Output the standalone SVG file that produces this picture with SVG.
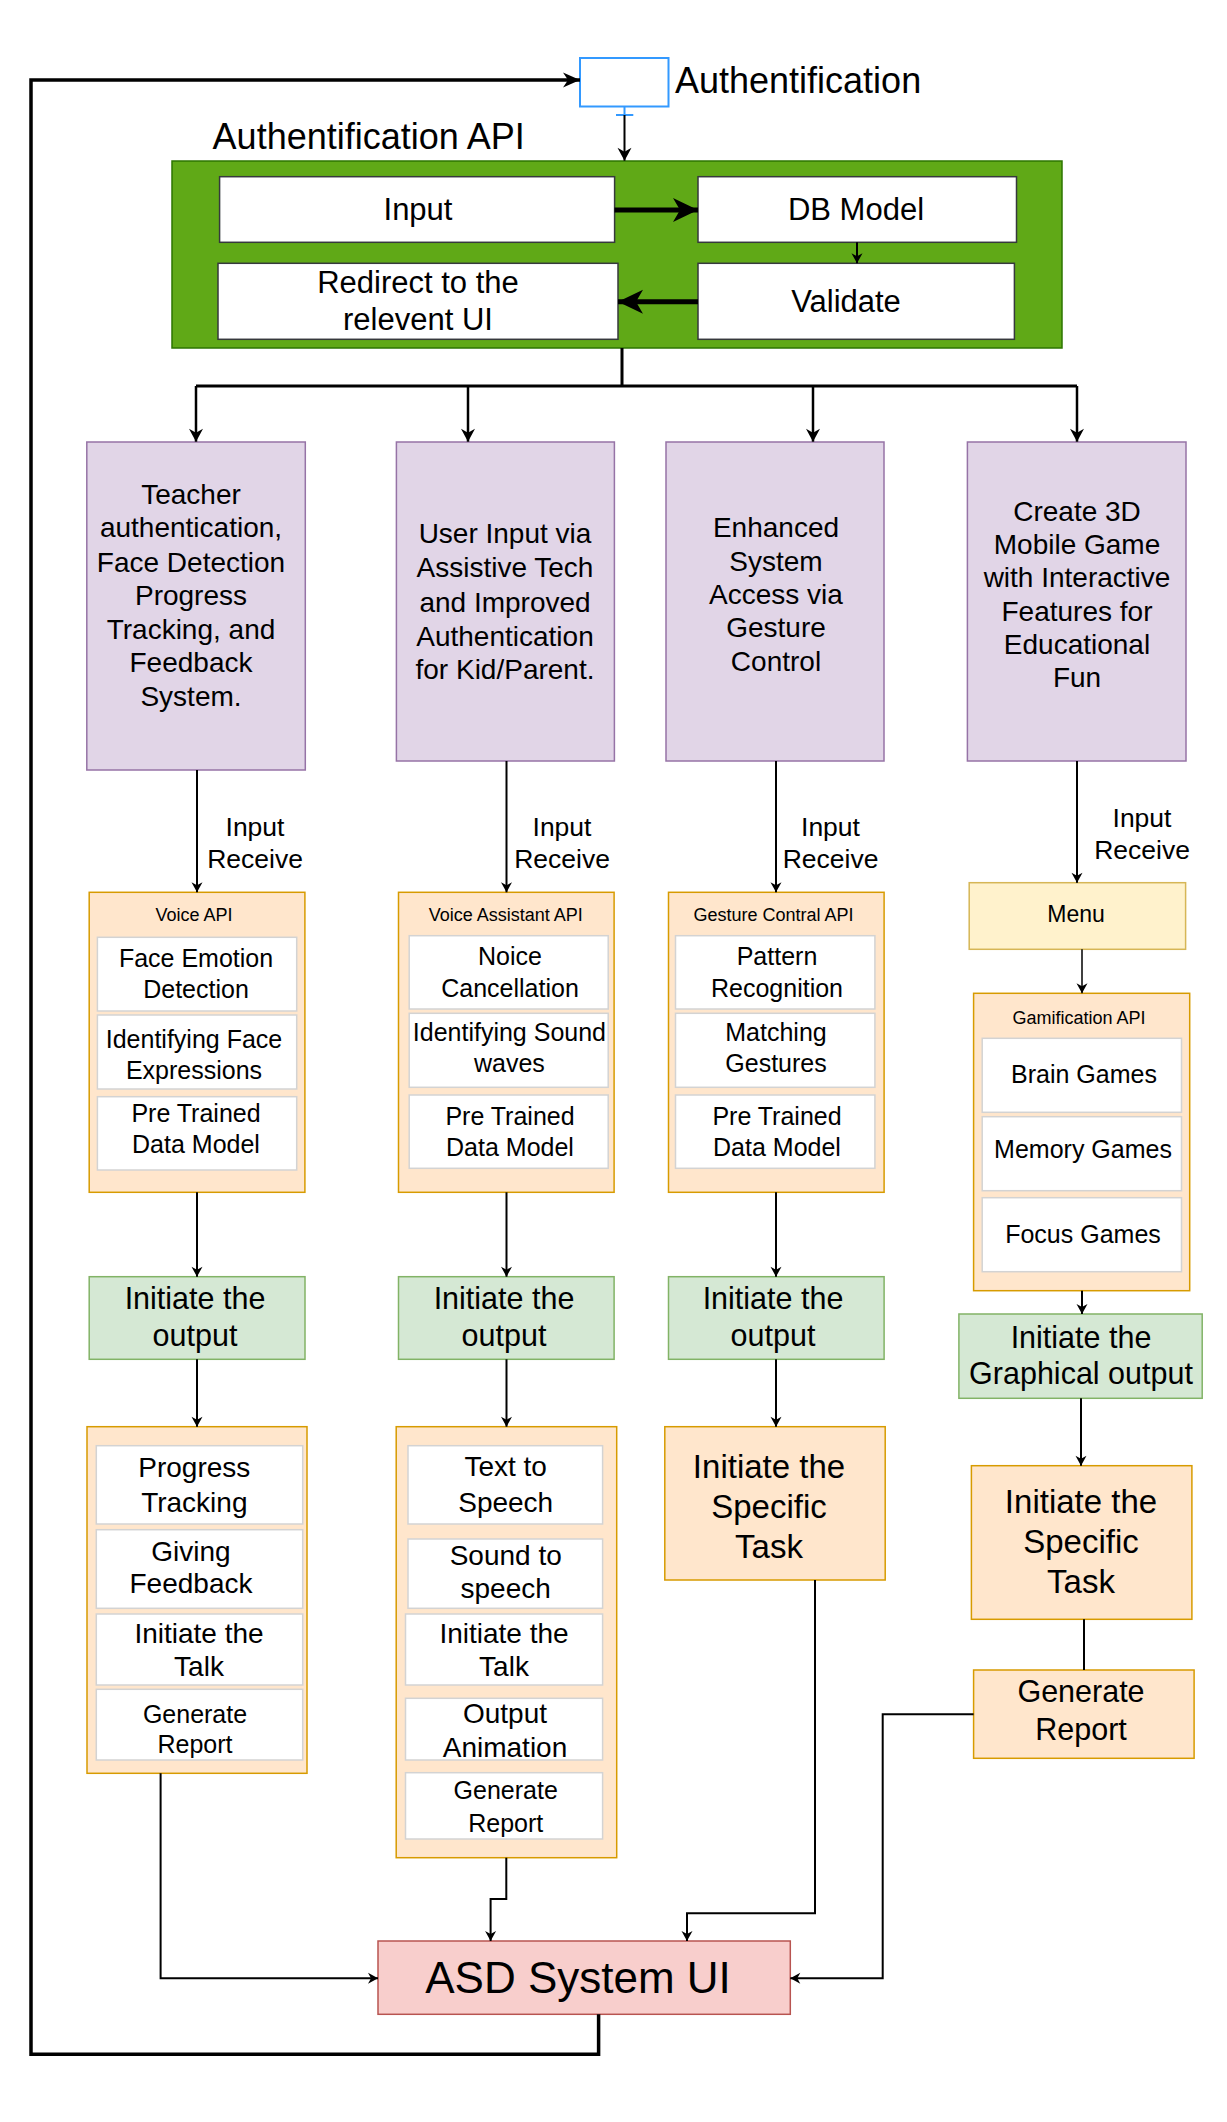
<svg xmlns="http://www.w3.org/2000/svg" width="1227" height="2122" viewBox="0 0 1227 2122">
<style>
text { font-family: "Liberation Sans", Arial, sans-serif; fill: #000; text-anchor: middle; }
.l { text-anchor: start; }
.ln { fill: none; stroke: #000; stroke-width: 2; }
.purple { fill: #e1d5e7; stroke: #9673a6; stroke-width: 1.5; }
.orange { fill: #ffe6cc; stroke: #d79b00; stroke-width: 1.5; }
.green { fill: #d5e8d4; stroke: #82b366; stroke-width: 1.5; }
.sub { fill: #fff; stroke: #d3d3d3; stroke-width: 1.5; }
.yellow { fill: #fff2cc; stroke: #d6b656; stroke-width: 1.5; }
.red { fill: #f8cecc; stroke: #b85450; stroke-width: 1.5; }
.wbox { fill: #fff; stroke: #36393d; stroke-width: 1.5; }
.f36 { font-size: 36px; }
.f31 { font-size: 31px; }
.f30 { font-size: 30.5px; }
.f28 { font-size: 28px; }
.f26 { font-size: 26.5px; }
.f25 { font-size: 25px; }
.f23 { font-size: 23px; }
.f18 { font-size: 18px; }
.f33 { font-size: 33px; }
.f44 { font-size: 44px; }
</style>
<defs>
<marker id="a" markerUnits="userSpaceOnUse" markerWidth="11" markerHeight="11" refX="10" refY="5.5" orient="auto" overflow="visible"><path d="M0,0 L10,5.5 L0,11 L3,5.5 z" fill="#000"/></marker>
<marker id="am" markerUnits="userSpaceOnUse" markerWidth="14" markerHeight="14" refX="13" refY="7" orient="auto" overflow="visible"><path d="M0,0 L13,7 L0,14 L4,7 z" fill="#000"/></marker>
<marker id="ab" markerUnits="userSpaceOnUse" markerWidth="17" markerHeight="15" refX="17" refY="7.5" orient="auto" overflow="visible"><path d="M0,0 L17,7.5 L0,15 L5,7.5 z" fill="#000"/></marker>
<marker id="at" markerUnits="userSpaceOnUse" markerWidth="25" markerHeight="24" refX="25" refY="12" orient="auto" overflow="visible"><path d="M0,0 L25,12 L0,24 L7,12 z" fill="#000"/></marker>
</defs>
<rect x="0" y="0" width="1227" height="2122" fill="#fff"/>

<g id="labels">
  <text class="f26" x="255" y="835.7">Input</text>
  <text class="f26" x="255" y="868.3">Receive</text>
  <text class="f26" x="562" y="835.7">Input</text>
  <text class="f26" x="562" y="868.3">Receive</text>
  <text class="f26" x="830.5" y="835.7">Input</text>
  <text class="f26" x="830.5" y="868.3">Receive</text>
  <text class="f26" x="1142" y="826.7">Input</text>
  <text class="f26" x="1142" y="859.3">Receive</text>
</g>

<g id="authentification">
  <rect x="580" y="58" width="88.5" height="48.5" fill="#fff" stroke="#3399ff" stroke-width="2"/>
  <text class="f36 l" x="675" y="93">Authentification</text>
</g>

<g id="auth-api">
  <text class="f36 l" x="212.6" y="149">Authentification API</text>
  <rect x="172" y="161" width="890" height="187" fill="#60a917" stroke="#2d7600" stroke-width="1.5"/>
  <g id="input"><rect class="wbox" x="219.6" y="176.7" width="395" height="65.6"/><text class="f31" x="418" y="220">Input</text></g>
  <g id="db-model"><rect class="wbox" x="698" y="176.7" width="318.5" height="65.6"/><text class="f31" x="856" y="220">DB Model</text></g>
  <g id="redirect"><rect class="wbox" x="218" y="263.3" width="400" height="76"/><text class="f31" x="418" y="293">Redirect to the</text><text class="f31" x="418" y="330">relevent UI</text></g>
  <g id="validate"><rect class="wbox" x="698" y="263.3" width="316.4" height="76"/><text class="f31" x="846" y="311.7">Validate</text></g>
</g>

<g id="teacher">
  <rect class="purple" x="86.8" y="442" width="218.5" height="328"/>
  <text class="f28" x="191" y="504">Teacher</text>
  <text class="f28" x="191" y="537.3">authentication,</text>
  <text class="f28" x="191" y="571.7">Face Detection</text>
  <text class="f28" x="191" y="605">Progress</text>
  <text class="f28" x="191" y="639">Tracking, and</text>
  <text class="f28" x="191" y="672.3">Feedback</text>
  <text class="f28" x="191" y="705.7">System.</text>
</g>
<g id="user-input">
  <rect class="purple" x="396.4" y="442" width="218" height="319"/>
  <text class="f28" x="505" y="543.3">User Input via</text>
  <text class="f28" x="505" y="577.3">Assistive Tech</text>
  <text class="f28" x="505" y="611.7">and Improved</text>
  <text class="f28" x="505" y="646">Authentication</text>
  <text class="f28" x="505" y="679.3">for Kid/Parent.</text>
</g>
<g id="enhanced">
  <rect class="purple" x="666" y="442" width="218" height="319"/>
  <text class="f28" x="776" y="537.3">Enhanced</text>
  <text class="f28" x="776" y="570.7">System</text>
  <text class="f28" x="776" y="604">Access via</text>
  <text class="f28" x="776" y="637.3">Gesture</text>
  <text class="f28" x="776" y="670.7">Control</text>
</g>
<g id="create-3d">
  <rect class="purple" x="967.4" y="442" width="218.6" height="319"/>
  <text class="f28" x="1077" y="520.7">Create 3D</text>
  <text class="f28" x="1077" y="554">Mobile Game</text>
  <text class="f28" x="1077" y="587.3">with Interactive</text>
  <text class="f28" x="1077" y="620.7">Features for</text>
  <text class="f28" x="1077" y="654">Educational</text>
  <text class="f28" x="1077" y="687.3">Fun</text>
</g>

<g id="voice-api">
  <rect class="orange" x="89.2" y="892.3" width="215.7" height="300"/>
  <text class="f18" x="194" y="920.7">Voice API</text>
  <rect class="sub" x="97.4" y="937.3" width="199.3" height="73.7"/>
  <text class="f25" x="196" y="967.3">Face Emotion</text>
  <text class="f25" x="196" y="998.3">Detection</text>
  <rect class="sub" x="97.4" y="1015" width="199.3" height="74"/>
  <text class="f25" x="194" y="1048.3">Identifying Face</text>
  <text class="f25" x="194" y="1079">Expressions</text>
  <rect class="sub" x="97.4" y="1096.7" width="199.3" height="73.3"/>
  <text class="f25" x="196" y="1122.3">Pre Trained</text>
  <text class="f25" x="196" y="1153.3">Data Model</text>
</g>
<g id="voice-assistant-api">
  <rect class="orange" x="398.5" y="892.3" width="215.6" height="300"/>
  <text class="f18" x="505.7" y="920.7">Voice Assistant API</text>
  <rect class="sub" x="409.2" y="935.7" width="199" height="73.3"/>
  <text class="f25" x="510" y="965">Noice</text>
  <text class="f25" x="510" y="996.7">Cancellation</text>
  <rect class="sub" x="409.2" y="1013.3" width="199" height="74"/>
  <text class="f25" x="509.4" y="1040.7">Identifying Sound</text>
  <text class="f25" x="509.4" y="1071.7">waves</text>
  <rect class="sub" x="409.2" y="1095" width="199" height="73.3"/>
  <text class="f25" x="510" y="1125">Pre Trained</text>
  <text class="f25" x="510" y="1155.7">Data Model</text>
</g>
<g id="gesture-api">
  <rect class="orange" x="668.5" y="892.3" width="215.6" height="300"/>
  <text class="f18" x="773.5" y="920.7">Gesture Contral API</text>
  <rect class="sub" x="675.5" y="935.7" width="199.4" height="73.3"/>
  <text class="f25" x="777" y="965">Pattern</text>
  <text class="f25" x="777" y="996.7">Recognition</text>
  <rect class="sub" x="675.5" y="1013.3" width="199.4" height="74"/>
  <text class="f25" x="776" y="1040.7">Matching</text>
  <text class="f25" x="776" y="1071.7">Gestures</text>
  <rect class="sub" x="675.5" y="1095" width="199.4" height="73.3"/>
  <text class="f25" x="777" y="1125">Pre Trained</text>
  <text class="f25" x="777" y="1155.7">Data Model</text>
</g>
<g id="menu">
  <rect class="yellow" x="969.2" y="882.7" width="216.4" height="66.6"/>
  <text class="f23" x="1076" y="922.3">Menu</text>
</g>
<g id="gamification-api">
  <rect class="orange" x="973.6" y="993.3" width="216.1" height="297.4"/>
  <text class="f18" x="1079" y="1024">Gamification API</text>
  <rect class="sub" x="982.2" y="1038.3" width="199.3" height="74"/>
  <text class="f25" x="1084" y="1083.3">Brain Games</text>
  <rect class="sub" x="982.2" y="1116.7" width="199.3" height="74"/>
  <text class="f25" x="1083" y="1158.3">Memory Games</text>
  <rect class="sub" x="982.2" y="1197.7" width="199.3" height="74"/>
  <text class="f25" x="1083" y="1242.7">Focus Games</text>
</g>

<g id="output-1">
  <rect class="green" x="89.2" y="1276.7" width="215.8" height="82.6"/>
  <text class="f30" x="195" y="1309.3">Initiate the</text>
  <text class="f30" x="195" y="1346">output</text>
</g>
<g id="output-2">
  <rect class="green" x="398.5" y="1276.7" width="215.6" height="82.6"/>
  <text class="f30" x="504" y="1309.3">Initiate the</text>
  <text class="f30" x="504" y="1346">output</text>
</g>
<g id="output-3">
  <rect class="green" x="668.5" y="1276.7" width="215.6" height="82.6"/>
  <text class="f30" x="773" y="1309.3">Initiate the</text>
  <text class="f30" x="773" y="1346">output</text>
</g>
<g id="graphical-output">
  <rect class="green" x="958.9" y="1314" width="243.3" height="84.3"/>
  <text class="f30" x="1081" y="1347.7">Initiate the</text>
  <text class="f30" x="1081" y="1384.3">Graphical output</text>
</g>

<g id="teacher-tasks">
  <rect class="orange" x="87" y="1426.7" width="220" height="346.6"/>
  <rect class="sub" x="96.3" y="1445.7" width="206.4" height="78.3"/>
  <text class="f28" x="194.3" y="1477.3">Progress</text>
  <text class="f28" x="194.3" y="1511.7">Tracking</text>
  <rect class="sub" x="96.3" y="1529.7" width="206.4" height="78.6"/>
  <text class="f28" x="191" y="1561">Giving</text>
  <text class="f28" x="191" y="1593.3">Feedback</text>
  <rect class="sub" x="96.3" y="1614" width="206.4" height="71"/>
  <text class="f28" x="199" y="1642.7">Initiate the</text>
  <text class="f28" x="199" y="1676">Talk</text>
  <rect class="sub" x="96.3" y="1689.3" width="206.4" height="70.7"/>
  <text class="f25" x="195" y="1722.7">Generate</text>
  <text class="f25" x="195" y="1753.3">Report</text>
</g>
<g id="speech-tasks">
  <rect class="orange" x="396.2" y="1426.7" width="220.5" height="431"/>
  <rect class="sub" x="408" y="1445.7" width="194.6" height="78.3"/>
  <text class="f28" x="505.7" y="1475.7">Text to</text>
  <text class="f28" x="505.7" y="1511.7">Speech</text>
  <rect class="sub" x="408" y="1539" width="194.6" height="69.3"/>
  <text class="f28" x="505.7" y="1565">Sound to</text>
  <text class="f28" x="505.7" y="1598.3">speech</text>
  <rect class="sub" x="405.5" y="1614" width="197.1" height="71"/>
  <text class="f28" x="504" y="1642.7">Initiate the</text>
  <text class="f28" x="504" y="1676">Talk</text>
  <rect class="sub" x="405.5" y="1698.3" width="197.1" height="61.7"/>
  <text class="f28" x="505" y="1722.7">Output</text>
  <text class="f28" x="505" y="1756.7">Animation</text>
  <rect class="sub" x="405.5" y="1772.7" width="197.1" height="66.3"/>
  <text class="f25" x="505.7" y="1799.3">Generate</text>
  <text class="f25" x="505.7" y="1831.7">Report</text>
</g>
<g id="specific-task-1">
  <rect class="orange" x="664.8" y="1426.7" width="220.4" height="153.3"/>
  <text class="f33" x="769" y="1478.3">Initiate the</text>
  <text class="f33" x="769" y="1518.3">Specific</text>
  <text class="f33" x="769" y="1558.3">Task</text>
</g>
<g id="specific-task-2">
  <rect class="orange" x="971.4" y="1465.7" width="220.5" height="153.6"/>
  <text class="f33" x="1081" y="1513.3">Initiate the</text>
  <text class="f33" x="1081" y="1553.3">Specific</text>
  <text class="f33" x="1081" y="1593.3">Task</text>
</g>
<g id="generate-report">
  <rect class="orange" x="973.6" y="1670" width="220.5" height="88.3"/>
  <text class="f30" x="1081" y="1701.7">Generate</text>
  <text class="f30" x="1081" y="1740">Report</text>
</g>
<g id="asd-system-ui">
  <rect class="red" x="378" y="1941" width="412.3" height="73.3"/>
  <text class="f44" x="578" y="1993.3">ASD System UI</text>
</g>

<g id="connectors">
  <path class="ln" d="M598.6,2014.3 V2054.3 H31 V80 H580" style="stroke-width:3.5" marker-end="url(#ab)"/>
  <path d="M624.5,106.7 V115 M616,115 H633.3" fill="none" stroke="#3399ff" stroke-width="2"/>
  <path class="ln" d="M624.5,115 V160.7" marker-end="url(#am)"/>
  <path class="ln" d="M614.5,210 H698" style="stroke-width:5" marker-end="url(#at)"/>
  <path class="ln" d="M857,242.3 V263.3" marker-end="url(#a)"/>
  <path class="ln" d="M698,301.7 H618" style="stroke-width:5" marker-end="url(#at)"/>
  <path class="ln" d="M622,348 V386 M196,386 H1077" style="stroke-width:3"/>
  <path class="ln" d="M196,386 V441.7" style="stroke-width:2.5" marker-end="url(#am)"/>
  <path class="ln" d="M468,386 V441.7" style="stroke-width:2.5" marker-end="url(#am)"/>
  <path class="ln" d="M813,386 V441.7" style="stroke-width:2.5" marker-end="url(#am)"/>
  <path class="ln" d="M1077,386 V441.7" style="stroke-width:2.5" marker-end="url(#am)"/>

  <path class="ln" d="M197,770 V892.3" marker-end="url(#a)"/>
  <path class="ln" d="M197,1192.3 V1276.7" marker-end="url(#a)"/>
  <path class="ln" d="M197,1359.3 V1426.7" marker-end="url(#a)"/>
  <path class="ln" d="M160.6,1773.3 V1978.3 H378" marker-end="url(#a)"/>

  <path class="ln" d="M506.5,761 V892.3" marker-end="url(#a)"/>
  <path class="ln" d="M506.5,1192.3 V1276.7" marker-end="url(#a)"/>
  <path class="ln" d="M506.5,1359.3 V1426.7" marker-end="url(#a)"/>
  <path class="ln" d="M506.3,1857.7 V1899 H490.6 V1941" marker-end="url(#a)"/>

  <path class="ln" d="M776,761 V892.3" marker-end="url(#a)"/>
  <path class="ln" d="M776,1192.3 V1276.7" marker-end="url(#a)"/>
  <path class="ln" d="M776,1359.3 V1426.7" marker-end="url(#a)"/>
  <path class="ln" d="M815,1580 V1913.3 H687 V1941" marker-end="url(#a)"/>

  <path class="ln" d="M1077,761 V882.7" marker-end="url(#a)"/>
  <path class="ln" d="M1082,949.3 V993.3" style="stroke-width:1.5" marker-end="url(#a)"/>
  <path class="ln" d="M1082,1290.7 V1314" marker-end="url(#a)"/>
  <path class="ln" d="M1081,1398.3 V1465.7" marker-end="url(#a)"/>
  <path class="ln" d="M1084,1619.3 V1670"/>
  <path class="ln" d="M973.6,1714.3 H882.7 V1978.3 H790.3" marker-end="url(#a)"/>
</g>
</svg>
